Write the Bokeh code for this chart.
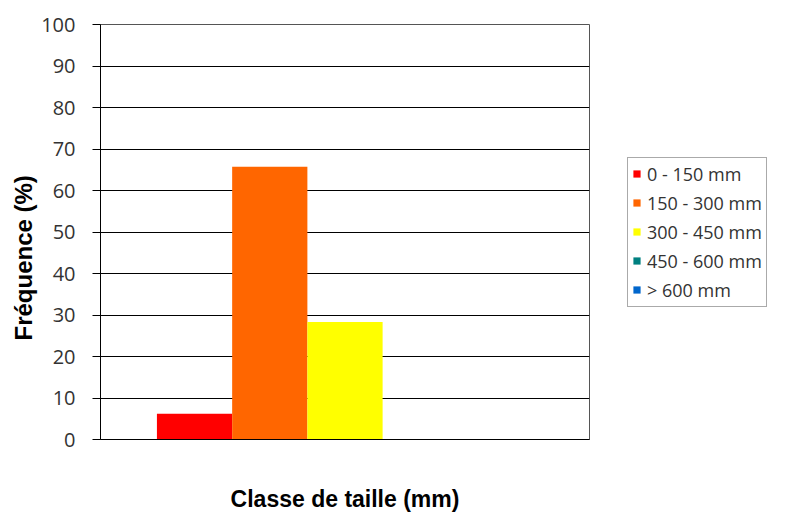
from bokeh.plotting import figure
from bokeh.models import (ColumnDataSource, FactorRange, Range1d, Legend, LegendItem,
                          FixedTicker, Title)
from bokeh.transform import dodge
from bokeh.embed import file_html
from bokeh.resources import INLINE

categories = [""]
series = ["0 - 150 mm", "150 - 300 mm", "300 - 450 mm", "450 - 600 mm", "> 600 mm"]
values = [6.2, 65.7, 28.3, 0.0, 0.0]
colors = ["#FF0000", "#FF6600", "#FFFF00", "#008080", "#0066CC"]
y_ticks = [0, 10, 20, 30, 40, 50, 60, 70, 80, 90, 100]

p = figure(frame_width=489, frame_height=415, output_backend="svg", toolbar_location=None,
           x_range=FactorRange(factors=categories, range_padding=0),
           y_range=Range1d(0, 100),
           min_border_left=100, min_border_right=190, min_border_top=24, min_border_bottom=77)
p.background_fill_color = "white"
p.border_fill_color = "white"
p.outline_line_color = "#555555"
p.outline_line_width = 1

bar_w = 1 / 1.3 / len(series)
renderers = []
for i, (s, v, c) in enumerate(zip(series, values, colors)):
    src = ColumnDataSource(dict(cat=categories, val=[v]))
    r = p.vbar(x=dodge("cat", (i - (len(series) - 1) / 2) * bar_w, range=p.x_range),
               top="val", width=bar_w, source=src, fill_color=c, line_color=None)
    renderers.append(r)

# grid
p.xgrid.grid_line_color = None
p.ygrid.grid_line_color = "black"
p.ygrid.grid_line_width = 1

# y axis
p.yaxis.ticker = FixedTicker(ticks=y_ticks)
p.yaxis.minor_tick_line_color = None
p.yaxis.major_tick_in = 0
p.yaxis.major_tick_out = 8
p.yaxis.major_tick_line_color = "black"
p.yaxis.axis_line_color = "black"
p.yaxis.major_label_standoff = 17
p.yaxis.major_label_text_font = "Open Sans"
p.yaxis.major_label_text_font_size = "20px"
p.yaxis.major_label_text_color = "#333333"

# y axis title (placed as a side title so it can sit slightly below centre)
ytitle = Title(text="Fréquence (%)", align="left", offset=99, standoff=4,
               text_font="Liberation Sans", text_font_style="bold",
               text_font_size="24px", text_color="black")
p.add_layout(ytitle, "left")

# x axis
p.xaxis.major_tick_line_color = None
p.xaxis.minor_tick_line_color = None
p.xaxis.axis_line_color = "black"
p.xaxis.major_label_text_font_size = "1px"
p.xaxis.major_label_standoff = 0
p.xaxis.axis_label = "Classe de taille (mm)"
p.xaxis.axis_label_text_font = "Liberation Sans"
p.xaxis.axis_label_text_font_style = "bold"
p.xaxis.axis_label_text_font_size = "23px"
p.xaxis.axis_label_text_color = "black"
p.xaxis.axis_label_standoff = 40

legend = Legend(items=[LegendItem(label=s, renderers=[r]) for s, r in zip(series, renderers)],
                location="center_left", padding=4, spacing=5, label_height=20,
                glyph_width=9, glyph_height=9, label_standoff=6,
                label_text_font="Open Sans", label_text_font_size="18px",
                label_text_color="#333333", border_line_color="#555555",
                border_line_width=1.5, background_fill_color="white", margin=38)
p.add_layout(legend, "right")

open("out.html", "w").write(file_html(p, INLINE))
